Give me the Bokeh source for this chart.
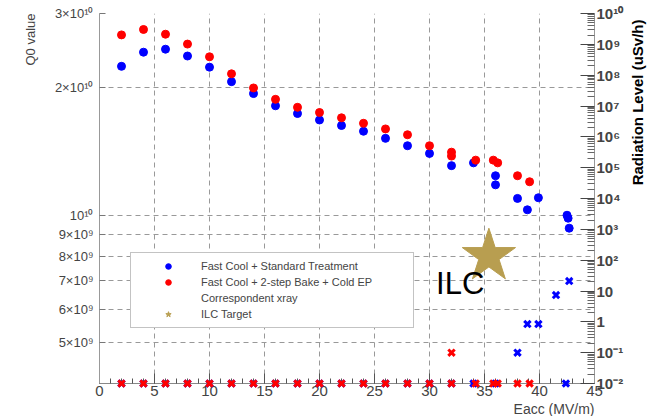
from bokeh.plotting import figure
from bokeh.layouts import row
from bokeh.models import (Range1d, LogScale, LogAxis, FixedTicker, SingleIntervalTicker,
                          Label, Legend, LegendItem, Title)
from bokeh.core.properties import value
from bokeh.embed import file_html
from bokeh.resources import INLINE

# ---------------- data ----------------
std_eacc = [2, 4, 6, 8, 10, 12, 14, 16, 18, 20, 22, 24, 26, 28, 30, 32, 34, 36, 36, 38, 38.9, 39.9, 42.5, 42.6, 42.7]
std_q0 = [2.25e10, 2.43e10, 2.47e10, 2.38e10, 2.24e10, 2.07e10, 1.94e10, 1.815e10, 1.74e10, 1.68e10,
          1.63e10, 1.58e10, 1.52e10, 1.46e10, 1.40e10, 1.31e10, 1.33e10, 1.24e10, 1.18e10, 1.096e10,
          1.03e10, 1.10e10, 1.0e10, 0.984e10, 0.932e10]

bake_eacc = [2, 4, 6, 8, 10, 12, 14, 16, 18, 20, 22, 24, 26, 28, 30, 32, 32, 34.2, 35.8, 36.2, 38, 39.1]
bake_q0 = [2.67e10, 2.75e10, 2.68e10, 2.54e10, 2.37e10, 2.16e10, 2.0e10, 1.88e10, 1.80e10, 1.75e10,
           1.70e10, 1.65e10, 1.60e10, 1.55e10, 1.46e10, 1.41e10, 1.38e10, 1.35e10, 1.35e10, 1.33e10,
           1.24e10, 1.20e10]

std_xray_eacc = [2, 4, 6, 8, 10, 12, 14, 16, 18, 20, 22, 24, 26, 28, 30, 32, 34, 36, 38, 38.9, 39.9, 41.5, 42.4, 42.7]
std_xray_rad = [0.01, 0.01, 0.01, 0.01, 0.01, 0.01, 0.01, 0.01, 0.01, 0.01, 0.01, 0.01, 0.01, 0.01,
                0.01, 0.01, 0.01, 0.01, 0.1, 0.85, 0.85, 7.4, 0.01, 21]

bake_xray_eacc = [2, 4, 6, 8, 10, 12, 14, 16, 18, 20, 22, 24, 26, 28, 30, 32, 32, 34.2, 35.8, 36.2, 38, 39.1]
bake_xray_rad = [0.01, 0.01, 0.01, 0.01, 0.01, 0.01, 0.01, 0.01, 0.01, 0.01, 0.01, 0.01, 0.01, 0.01,
                 0.01, 0.01, 0.1, 0.01, 0.01, 0.01, 0.01, 0.01]

ilc_eacc = [35.4]
ilc_q0 = [8.0e9]

q0_ticks = [5e9, 6e9, 7e9, 8e9, 9e9, 1e10, 2e10, 3e10]
q0_tick_labels = ["5×10⁹", "6×10⁹", "7×10⁹", "8×10⁹", "9×10⁹", "10¹⁰", "2×10¹⁰", "3×10¹⁰"]

rad_ticks = [1e-2, 1e-1, 1, 10, 1e2, 1e3, 1e4, 1e5, 1e6, 1e7, 1e8, 1e9, 1e10]
rad_tick_labels = ["10⁻²", "10⁻¹", "1", "10", "10²", "10³", "10⁴", "10⁵", "10⁶", "10⁷", "10⁸", "10⁹", "10¹⁰"]

FONT = "Liberation Sans"
GOLD = "#B89E50"
H = 416

# ---------------- main figure ----------------
p = figure(width=627, height=H, x_range=Range1d(0, 45), y_range=Range1d(4.0e9, 3.0e10),
           y_axis_type="log", output_backend="svg", toolbar_location=None, title=None,
           min_border_left=99, min_border_right=33, min_border_top=13, min_border_bottom=33)
p.outline_line_color = None
p.background_fill_color = "white"

p.extra_y_ranges = {"rad": Range1d(1e-2, 1e10)}
p.extra_y_scales = {"rad": LogScale()}

# bottom axis
xa = p.xaxis[0]
xa.ticker = SingleIntervalTicker(interval=5, num_minor_ticks=5)
xa.axis_line_color = "#888888"
xa.major_tick_line_color = "#555555"
xa.minor_tick_line_color = "#555555"
xa.major_tick_in = 10
xa.major_tick_out = 0
xa.minor_tick_in = 5
xa.minor_tick_out = 0
xa.major_label_text_font = FONT
xa.major_label_text_font_size = "15px"
xa.major_label_standoff = 2

# left axis
ya = p.yaxis[0]
ya.ticker = FixedTicker(ticks=q0_ticks, minor_ticks=[])
ya.major_label_overrides = {t: l for t, l in zip(q0_ticks, q0_tick_labels)}
ya.axis_line_color = "#999999"
ya.major_tick_line_color = "#777777"
ya.major_tick_in = 6
ya.major_tick_out = 0
ya.minor_tick_line_color = None
ya.major_label_text_font = FONT
ya.major_label_text_font_size = "13px"
ya.major_label_standoff = 6

# right axis
rad_minor = [m * 10.0 ** k for k in range(-2, 10) for m in range(2, 10)]
ra = LogAxis(y_range_name="rad", ticker=FixedTicker(ticks=rad_ticks, minor_ticks=rad_minor))
ra.major_label_overrides = {t: l for t, l in zip(rad_ticks, rad_tick_labels)}
ra.axis_line_color = "#999999"
ra.major_tick_line_color = "#444444"
ra.minor_tick_line_color = "#666666"
ra.major_tick_in = 14
ra.major_tick_out = 0
ra.minor_tick_in = 7
ra.minor_tick_out = 0
ra.major_label_text_font = FONT
ra.major_label_text_font_style = "bold"
ra.major_label_text_font_size = "15px"
ra.major_label_standoff = 2
p.add_layout(ra, "right")

# grids
for g in (p.xgrid[0], p.ygrid[0]):
    g.grid_line_color = "#999999"
    g.grid_line_dash = "5 4"
    g.grid_line_width = 1

# axis titles
p.add_layout(Title(text="Q0 value", align="right", text_font=FONT, text_font_size="13px",
                   text_font_style="normal", standoff=27), "left")
p.add_layout(Title(text="Eacc (MV/m)", align="right", text_font=FONT, text_font_size="14px",
                   text_font_style="normal", standoff=0), "below")

# ---------------- glyphs ----------------
r_std = p.scatter(std_eacc, std_q0, size=8, fill_color="#0000FF", line_color="#0000FF")
r_bake = p.scatter(bake_eacc, bake_q0, size=8, fill_color="#FF0000", line_color="#FF0000")
r_xs = p.scatter(std_xray_eacc, std_xray_rad, marker="x", size=9, line_width=3, line_color="#0000FF",
                 y_range_name="rad")
r_xb = p.scatter(bake_xray_eacc, bake_xray_rad, marker="x", size=9, line_width=3, line_color="#FF0000",
                 y_range_name="rad")
r_xs.level = "overlay"
r_xb.level = "overlay"
r_xr = p.scatter([], [], marker="square", size=5, fill_color="white", line_color="#aaaaaa")
r_ilc = p.scatter(ilc_eacc, ilc_q0, marker="star", size=56, fill_color=GOLD, line_color=GOLD)

p.add_layout(Label(x=30.6, y=6.9e9, text="ILC", text_font=FONT, text_font_size="31px",
                   text_color="black", text_baseline="alphabetic"))

legend = Legend(items=[
    LegendItem(label="Fast Cool + Standard Treatment", renderers=[r_std]),
    LegendItem(label="Fast Cool + 2-step Bake + Cold EP", renderers=[r_bake]),
    LegendItem(label="Correspondent xray", renderers=[r_xr]),
    LegendItem(label="ILC Target", renderers=[r_ilc]),
], location=(31, 55))
legend.label_text_font = FONT
legend.label_text_font_size = "11px"
legend.glyph_width = 62
legend.glyph_height = 14
legend.label_height = 14
legend.label_width = 206
legend.label_standoff = 2
legend.spacing = 2
legend.padding = 6
legend.margin = 0
legend.border_line_color = "#888888"
legend.background_fill_alpha = 1
p.add_layout(legend)

# ---------------- right title panel ----------------
p2 = figure(width=23, height=H, x_range=Range1d(0, 23), y_range=Range1d(0, H),
            output_backend="svg", toolbar_location=None, title=None,
            x_axis_location=None, y_axis_location=None,
            min_border_left=0, min_border_right=0, min_border_top=0, min_border_bottom=0)
p2.outline_line_color = None
p2.xgrid.visible = False
p2.ygrid.visible = False
p2.text(x=[10], y=[H - 100], text=["Radiation Level (uSv/h)"], angle=1.5708,
        text_align="center", text_baseline="middle", text_font=value(FONT),
        text_font_size="15px", text_font_style="bold", text_color="black")

layout = row(p, p2)
open("out.html", "w").write(file_html(layout, INLINE))
